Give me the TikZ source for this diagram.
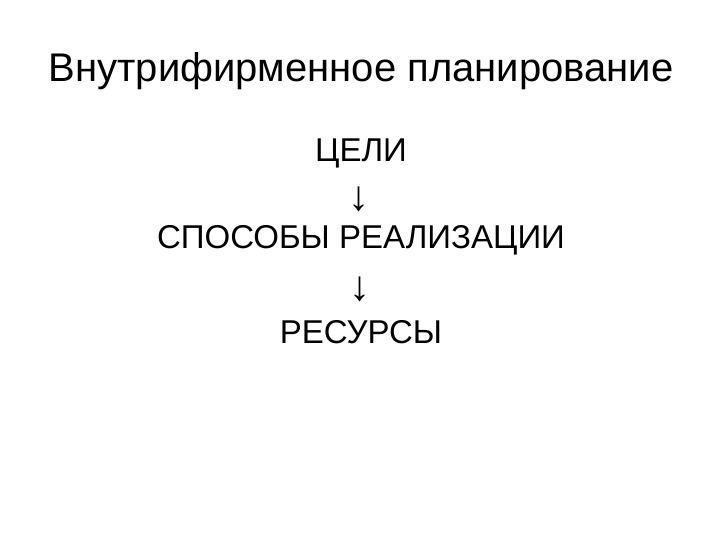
\documentclass[tikz,border=0pt]{standalone}
\usepackage{fontspec}
\setmainfont{Liberation Sans}
\tikzset{
  title/.style={anchor=base, inner sep=0pt, font=\fontsize{40}{48}\selectfont},
  item/.style={anchor=base, inner sep=0pt, font=\fontsize{33}{40}\selectfont},
  arrowchar/.style={anchor=center, inner sep=0pt, font=\fontsize{42}{50}\selectfont}
}
\begin{document}
\begin{tikzpicture}[x=1pt,y=-1pt]
\useasboundingbox[fill=white] (0,0) rectangle (720,540);
\node[title] (t) at (361,82) {Внутрифирменное планирование};
\node[item] (goal) at (361,162) {ЦЕЛИ};
\node[arrowchar] (a1) at (359,199) {↓};
\node[item] (ways) at (361,248) {СПОСОБЫ РЕАЛИЗАЦИИ};
\node[arrowchar] (a2) at (360,289) {↓};
\node[item] (res) at (361,343) {РЕСУРСЫ};
\end{tikzpicture}
\end{document}
